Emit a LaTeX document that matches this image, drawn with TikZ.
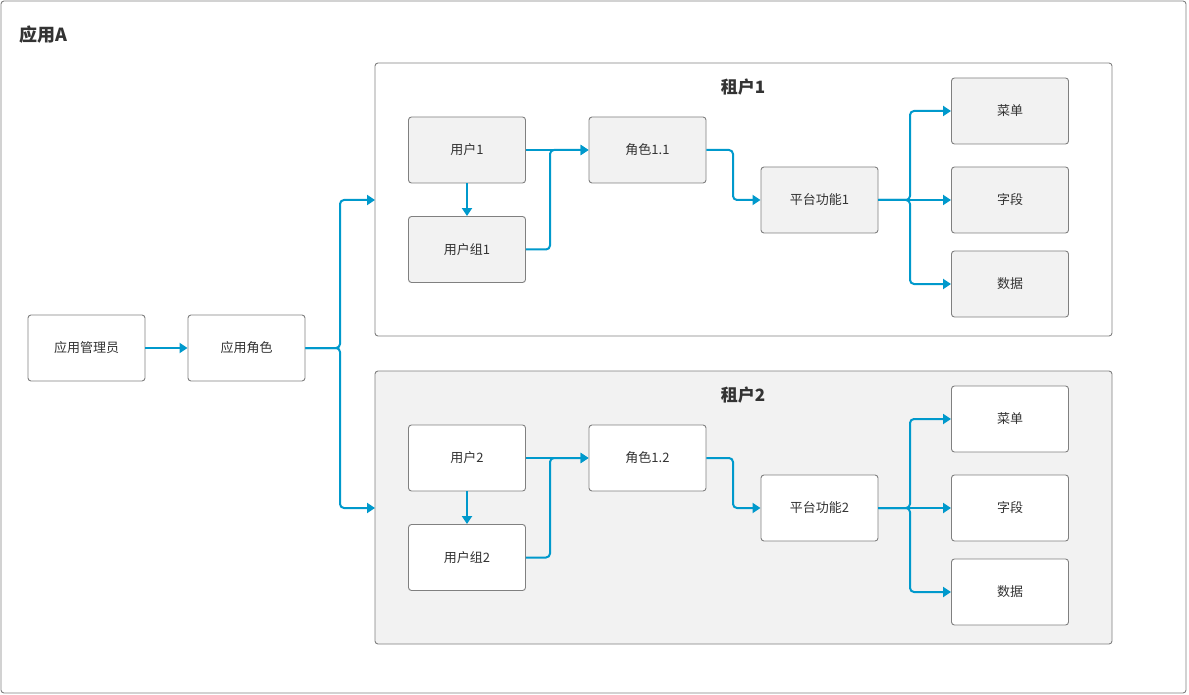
\documentclass[tikz,border=0pt]{standalone}
\usepackage{fontspec}
\setmainfont{Noto Sans CJK SC}
\usetikzlibrary{arrows.meta}
\definecolor{lineblue}{HTML}{0099CC}
\definecolor{boxgray}{HTML}{F2F2F2}
\definecolor{edgegray}{HTML}{808080}
\definecolor{txt}{HTML}{333333}
\tikzset{
  item/.style={draw=edgegray, line width=0.9pt, rounded corners=3pt, minimum width=117pt, minimum height=66pt, inner sep=0pt, text=txt, font=\fontsize{13}{15}\selectfont},
  grayitem/.style={item, fill=boxgray},
  whiteitem/.style={item, fill=white},
  link/.style={draw=lineblue, line width=2pt, rounded corners=4pt, -{Triangle[length=8pt,width=10pt]}},
}
\begin{document}
\begin{tikzpicture}[x=1pt,y=-1pt]
\useasboundingbox (0,0) rectangle (1189,695);
\draw[draw=edgegray, line width=0.9pt, rounded corners=3pt, fill=white] (1,1) rectangle (1186,693);
\node[anchor=west, font=\bfseries\fontsize{18}{20}\selectfont, text=txt] (title) at (16,35) {应用A};

% tenant boxes
\draw[draw=edgegray, line width=0.9pt, rounded corners=3pt, fill=white] (375,63) rectangle (1112,336);
\coordinate (t1in) at (375,200);
\node[font=\bfseries\fontsize{17}{19}\selectfont, text=txt] (t1title) at (743,87) {租户1};
\draw[draw=edgegray, line width=0.9pt, rounded corners=3pt, fill=boxgray] (375,371) rectangle (1112,644);
\coordinate (t2in) at (375,508);
\node[font=\bfseries\fontsize{17}{19}\selectfont, text=txt] (t2title) at (743,395) {租户2};

% left nodes
\node[whiteitem] (admin) at (86.5,348) {应用管理员};
\node[whiteitem] (role) at (246.5,348) {应用角色};

% tenant 1
\node[grayitem] (u1) at (467,150) {用户1};
\node[grayitem] (g1) at (467,249.5) {用户组1};
\node[grayitem] (r1) at (647.5,150) {角色1.1};
\node[grayitem] (p1) at (819.5,200) {平台功能1};
\node[grayitem] (m1) at (1010,111) {菜单};
\node[grayitem] (f1) at (1010,200) {字段};
\node[grayitem] (d1) at (1010,284) {数据};

% tenant 2
\node[whiteitem] (u2) at (467,458) {用户2};
\node[whiteitem] (g2) at (467,557.5) {用户组2};
\node[whiteitem] (r2) at (647.5,458) {角色1.2};
\node[whiteitem] (p2) at (819.5,508) {平台功能2};
\node[whiteitem] (m2) at (1010,419) {菜单};
\node[whiteitem] (f2) at (1010,508) {字段};
\node[whiteitem] (d2) at (1010,592) {数据};

% connectors
\draw[link, rounded corners=0pt] (admin.east) -- (role.west);
\draw[link] (role.east) -- (340,348) -- (340,200) -- (t1in);
\draw[link] (role.east) -- (340,348) -- (340,508) -- (t2in);

\foreach \u/\g/\r/\p/\m/\f/\d in {u1/g1/r1/p1/m1/f1/d1, u2/g2/r2/p2/m2/f2/d2}{
  \draw[link] (\u.south) -- (\g.north);
  \draw[link] (\u.east) -- (\r.west);
  \draw[link] (\g.east) -| (550,0 |- \r.west) -- (\r.west);
  \draw[link] (\r.east) -- (733,0 |- \r.east) |- (\p.west);
  \draw[link] (\p.east) -- (910,0 |- \p.east) |- (\m.west);
  \draw[link] (\p.east) -- (\f.west);
  \draw[link] (\p.east) -- (910,0 |- \p.east) |- (\d.west);
}
\end{tikzpicture}
\end{document}
